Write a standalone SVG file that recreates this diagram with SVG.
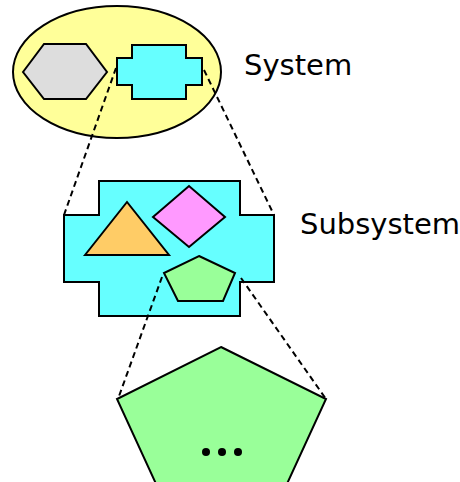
<svg xmlns="http://www.w3.org/2000/svg" width="460" height="482" viewBox="0 0 460 482">
<style>
.s{stroke:#000;stroke-width:2;stroke-linejoin:miter}
.d{fill:none;stroke:#000;stroke-width:2;stroke-dasharray:6,4}
.t{font-family:"DejaVu Sans",sans-serif;font-size:29px;fill:#000}
</style>
<rect width="460" height="482" fill="#fff"/>
<g id="system">
<ellipse class="s" cx="117" cy="72" rx="104" ry="66" fill="#ffff99"/>
<polygon id="hexagon" class="s" points="23,72 44,44 86,44 107,72 86,99 44,99" fill="#dddddd"/>
<polygon id="system-cross" class="s" points="132,45 186,45 186,58 202,58 202,85 186,85 186,99 132,99 132,85 117,85 117,58 132,58" fill="#66ffff"/>
</g>
<g id="subsystem">
<polygon class="s" points="99,181 240,181 240,215 274,215 274,282 240,282 240,316 99,316 99,282 64,282 64,215 99,215" fill="#66ffff"/>
<polygon id="triangle" class="s" points="85,255 127,202 169,255" fill="#ffcc66"/>
<polygon id="diamond" class="s" points="153,217 189,186 225,217 189,247" fill="#ff99ff"/>
<polygon id="small-pentagon" class="s" points="199,256 235,273 223,301 178,301 164,273" fill="#99ff99"/>
</g>
<g id="detail">
<polygon class="s" points="221,347 326,399 286,486 157,486 117,399" fill="#99ff99"/>
<circle cx="206" cy="452" r="4"/>
<circle cx="222" cy="452" r="4"/>
<circle cx="238" cy="452" r="4"/>
</g>
<g id="connectors">
<line class="d" x1="116" y1="68" x2="64" y2="215"/>
<line class="d" x1="204" y1="70" x2="274" y2="215"/>
<line class="d" x1="162" y1="277" x2="118" y2="399"/>
<line class="d" x1="241" y1="278" x2="326" y2="399"/>
</g>
<g id="labels">
<text class="t" x="244" y="75">System</text>
<text class="t" x="300" y="234">Subsystem</text>
</g>
</svg>
